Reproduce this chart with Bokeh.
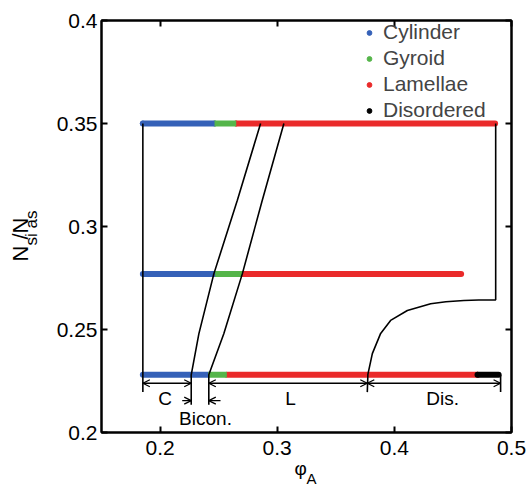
from bokeh.plotting import figure
from bokeh.models import (Range1d, LinearAxis, FixedTicker, Label, Title,
                          Legend, LegendItem, ColumnDataSource)
from bokeh.embed import file_html
from bokeh.resources import INLINE

# ---------------- data ----------------
row_y = [0.35, 0.277, 0.228]                 # N_si/N_as of each simulated row
cyl_start = [0.1853, 0.1853, 0.1853]
cyl_end = [0.2465, 0.247, 0.241]
gyr_end = [0.265, 0.270, 0.257]
lam_end = [0.486, 0.457, 0.471]
dis_start = [0.471]
dis_end = [0.489]
dis_y = [0.228]

# phase boundaries
b1_x = [0.2858, 0.2659, 0.2459, 0.2331, 0.2266, 0.2266]
b1_y = [0.35, 0.3126, 0.277, 0.2479, 0.228, 0.2135]
b2_x = [0.3057, 0.2872, 0.2702, 0.2544, 0.2416, 0.2416]
b2_y = [0.35, 0.3126, 0.277, 0.2479, 0.228, 0.2135]
b3_x = [0.4865, 0.4865, 0.4720, 0.4594, 0.4440, 0.4310, 0.4111, 0.3968, 0.3883, 0.3812, 0.3774, 0.3769]
b3_y = [0.35, 0.2644, 0.2643, 0.2641, 0.2635, 0.2625, 0.2592, 0.2544, 0.2481, 0.2383, 0.2282, 0.2196]
left_x = [0.1853, 0.1853]
left_y = [0.35, 0.2196]
right_x = [0.4907, 0.4907]
right_y = [0.228, 0.2196]

# region brackets
bracket_y = 0.2239
bracket_x0 = [0.1853, 0.2416, 0.3769]
bracket_x1 = [0.2266, 0.3769, 0.4907]
bicon_y = 0.2155
bicon_x0 = [0.2189, 0.2516]
bicon_x1 = [0.2266, 0.2416]
region_labels = ["C", "L", "Dis.", "Bicon."]
region_x = [0.2042, 0.3114, 0.4412, 0.2388]
region_y = [0.2165, 0.2165, 0.2165, 0.2068]

x_ticks = [0.2, 0.3, 0.4, 0.5]
x_tick_labels = ["0.2", "0.3", "0.4", "0.5"]
y_ticks = [0.2, 0.25, 0.3, 0.35, 0.4]
y_tick_labels = ["0.2", "0.25", "0.3", "0.35", "0.4"]

phase_names = ["Cylinder", "Gyroid", "Lamellae", "Disordered"]
phase_colors = ["#3561b8", "#55b54a", "#ea2a2a", "#000000"]
legend_x = [cyl_start[0], cyl_end[0], gyr_end[0], dis_start[0]]
legend_y = [row_y[0], row_y[0], row_y[0], dis_y[0]]

FONT = "Liberation Sans"
X0, X1, Y0, Y1 = 0.15, 0.5, 0.2, 0.4
FW, FH = 410, 412

# ---------------- figure ----------------
p = figure(frame_width=FW, frame_height=FH,
           x_range=Range1d(X0, X1), y_range=Range1d(Y0, Y1),
           x_axis_location=None, y_axis_location=None,
           output_backend="svg", toolbar_location=None,
           min_border_left=101, min_border_right=18,
           min_border_top=20, min_border_bottom=56)
p.xgrid.visible = False
p.ygrid.visible = False
p.outline_line_color = "black"
p.outline_line_width = 2

bottom_axis = LinearAxis()
left_axis = LinearAxis()
top_axis = LinearAxis()
right_axis = LinearAxis()
p.add_layout(bottom_axis, "below")
p.add_layout(left_axis, "left")
p.add_layout(top_axis, "above")
p.add_layout(right_axis, "right")

for ax, ticks, labels in [(bottom_axis, x_ticks, x_tick_labels), (top_axis, x_ticks, x_tick_labels),
                          (left_axis, y_ticks, y_tick_labels), (right_axis, y_ticks, y_tick_labels)]:
    ax.ticker = FixedTicker(ticks=ticks)
    ax.major_label_overrides = {t: l for t, l in zip(ticks, labels)}
    ax.axis_line_width = 2
    ax.axis_line_color = "black"
    ax.major_tick_in = 6
    ax.major_tick_out = 0
    ax.major_tick_line_width = 2
    ax.minor_tick_in = 0
    ax.minor_tick_out = 0
    ax.major_label_text_font = FONT
    ax.major_label_text_font_size = "21px"
    ax.major_label_text_color = "black"

top_axis.major_label_overrides = {t: "" for t in x_ticks}
right_axis.major_label_overrides = {t: "" for t in y_ticks}
top_axis.major_label_standoff = 0
right_axis.major_label_standoff = 0
bottom_axis.major_label_standoff = 8
left_axis.major_label_standoff = 4

# ---------------- legend markers (hidden under the bars) ----------------
items = []
for name, col, lx, ly in zip(phase_names, phase_colors, legend_x, legend_y):
    r = p.scatter(x=[lx], y=[ly], size=5, color=col)
    items.append(LegendItem(label=name, renderers=[r]))

# ---------------- phase bars ----------------
src = ColumnDataSource(dict(y=row_y, c0=cyl_start, c1=cyl_end, g1=gyr_end, l1=lam_end))
p.segment(x0="c0", y0="y", x1="c1", y1="y", source=src, line_color=phase_colors[0],
          line_width=6, line_cap="round")
p.segment(x0="g1", y0="y", x1="l1", y1="y", source=src, line_color=phase_colors[2],
          line_width=6, line_cap="round")
p.segment(x0="c1", y0="y", x1="g1", y1="y", source=src, line_color=phase_colors[1],
          line_width=6, line_cap="butt")
p.segment(x0=dis_start, y0=dis_y, x1=dis_end, y1=dis_y, line_color=phase_colors[3],
          line_width=6, line_cap="round")

# ---------------- boundaries ----------------
for xs, ys in [(b1_x, b1_y), (b2_x, b2_y), (b3_x, b3_y), (left_x, left_y), (right_x, right_y)]:
    p.line(xs, ys, line_color="black", line_width=1.6)

# ---------------- bracket arrows (shafts + open heads) ----------------
HX = 7 * (X1 - X0) / FW      # head length, 7 px
HY = 3.5 * (Y1 - Y0) / FH    # head half-width, 3.5 px
shaft_x0, shaft_x1, shaft_y = [], [], []
head_x0, head_y0, head_x1, head_y1 = [], [], [], []

def add_head(xt, yt, direction):
    for s in (1, -1):
        head_x0.append(xt)
        head_y0.append(yt)
        head_x1.append(xt - direction * HX)
        head_y1.append(yt + s * HY)

for a, b in zip(bracket_x0, bracket_x1):
    shaft_x0.append(a); shaft_x1.append(b); shaft_y.append(bracket_y)
    add_head(a, bracket_y, -1)
    add_head(b, bracket_y, 1)
for a, b in zip(bicon_x0, bicon_x1):
    shaft_x0.append(a); shaft_x1.append(b); shaft_y.append(bicon_y)
    add_head(b, bicon_y, 1 if b > a else -1)

p.segment(x0=shaft_x0, y0=shaft_y, x1=shaft_x1, y1=shaft_y, line_color="black", line_width=1.3)
p.segment(x0=head_x0, y0=head_y0, x1=head_x1, y1=head_y1, line_color="black", line_width=1.3)

for t, x, y in zip(region_labels, region_x, region_y):
    p.add_layout(Label(x=x, y=y, text=t, text_font=FONT, text_font_size="19px",
                       text_align="center", text_baseline="middle", text_color="black"))

legend = Legend(items=items, location=(262, 310), label_text_font=FONT,
                label_text_font_size="21px", glyph_width=12, glyph_height=21,
                label_height=21, spacing=2, padding=0, margin=0,
                background_fill_alpha=0, border_line_alpha=0, label_standoff=8)
p.add_layout(legend)

# ---------------- axis titles with subscripts (titles in the side panels) ----------------
# y: N_si / N_as
p.add_layout(Title(text="si" + " " * 5 + "as", text_font=FONT, text_font_size="17px",
                   text_font_style="normal", align="left", offset=187, vertical_align="bottom",
                   standoff=25, text_color="black"), "left")
p.add_layout(Title(text="N  /N", text_font=FONT, text_font_size="22px",
                   text_font_style="normal", align="left", offset=171, vertical_align="bottom",
                   standoff=-50, text_color="black"), "left")
# x: phi_A
p.add_layout(Title(text="φ", text_font=FONT, text_font_size="19px",
                   text_font_style="normal", align="left", offset=193, vertical_align="top",
                   standoff=0, text_color="black"), "below")
p.add_layout(Title(text="A", text_font=FONT, text_font_size="15px",
                   text_font_style="normal", align="left", offset=205, vertical_align="top",
                   standoff=-22, text_color="black"), "below")

open("out.html", "w").write(file_html(p, INLINE))
